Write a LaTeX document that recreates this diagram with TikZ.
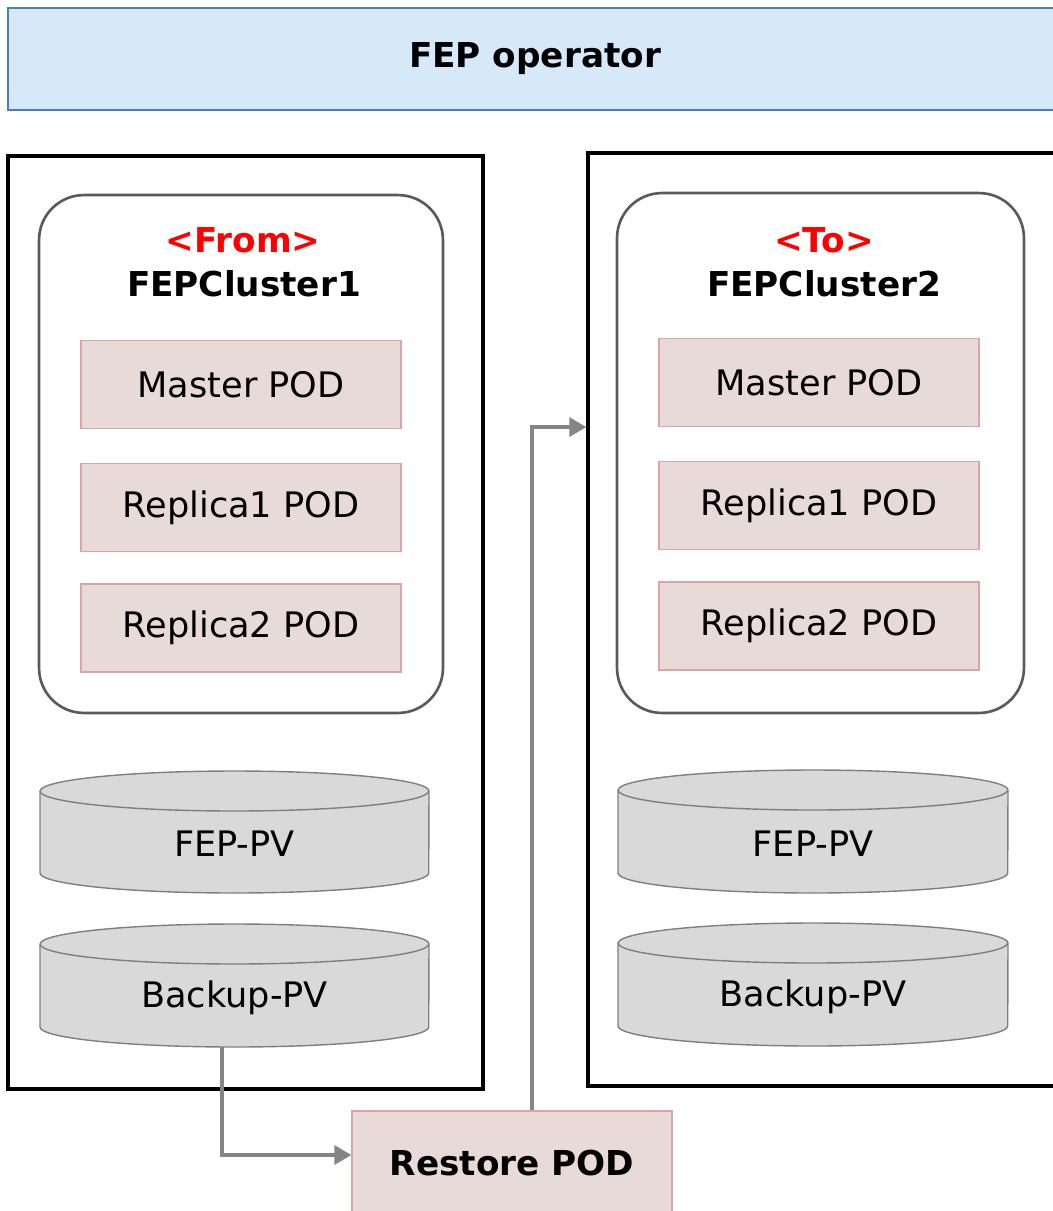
\documentclass[tikz,border=0pt]{standalone}
\usepackage{fontspec}
\setmainfont{DejaVu Sans}
\usetikzlibrary{arrows.meta,positioning}

\definecolor{opfill}{HTML}{D6E9F8}
\definecolor{opedge}{HTML}{4A7EBB}
\definecolor{podfill}{HTML}{E9DADA}
\definecolor{podedge}{HTML}{D9A5A5}
\definecolor{pvfill}{HTML}{D9D9D9}
\definecolor{pvedge}{HTML}{7F7F7F}
\definecolor{clusteredge}{HTML}{5A5A5A}
\definecolor{flowgray}{HTML}{858585}

\tikzset{
  pod/.style={draw=podedge, fill=podfill, line width=0.8pt, inner sep=0pt,
    minimum width=6.4cm, minimum height=1.76cm, font=\fontsize{20}{24}\selectfont},
  frame/.style={draw=black, line width=2pt, inner sep=0pt},
  cluster/.style={draw=clusteredge, line width=1.5pt, rounded corners=0.9cm, inner sep=0pt},
  pv/.style={draw=pvedge, fill=pvfill, line width=0.8pt},
  flow/.style={draw=flowgray, line width=2pt, -{Triangle[length=0.34cm,width=0.38cm]}},
  bold label/.style={font=\fontsize{19.5}{23}\selectfont\bfseries}
}

\begin{document}
\begin{tikzpicture}[x=0.02cm,y=-0.02cm]
	%Page is 1053 x 1211, one unit is one pixel of the reference, y runs down
	\useasboundingbox (0,0) rectangle (1053,1211);
	\clip (0,0) rectangle (1053,1211);

	%Operator bar on top
	\node[draw=opedge, fill=opfill, line width=1.1pt, minimum width=21.08cm, minimum height=2.04cm,
	  bold label] (operator) at (535,59) {FEP operator};

	%Outer frames of the two clusters
	\node[frame, minimum width=9.5cm, minimum height=18.66cm] (from-frame) at (245.5,622.5) {};
	\node[frame, minimum width=9.64cm, minimum height=18.66cm] (to-frame) at (829,619.5) {};

	%Rounded cluster boxes
	\node[cluster, minimum width=8.08cm, minimum height=10.36cm] (from-cluster) at (241,454) {};
	\node[cluster, minimum width=8.14cm, minimum height=10.4cm] (to-cluster) at (820.5,453) {};

	\node[bold label, text=red] (from-tag) at (243,240) {<From>};
	\node[bold label] (from-name) at (244,284) {FEPCluster1};
	\node[bold label, text=red] (to-tag) at (824,240) {<To>};
	\node[bold label] (to-name) at (824,284) {FEPCluster2};

	%Pods of each cluster
	\foreach \side/\cx/\dy in {from/241/0, to/819/-2}{
	  \node[pod] (\side-master) at (\cx,384.5+\dy) {Master POD};
	  \node[pod] (\side-replica1) at (\cx,507.5+\dy) {Replica1 POD};
	  \node[pod] (\side-replica2) at (\cx,628+\dy) {Replica2 POD};
	}

	%Persistent volumes: left, right, top, bottom
	\foreach \name/\xl/\xr/\yt/\yb/\txt in {from-fep/40/429/771/893/FEP-PV,
	    from-backup/40/429/924/1047/Backup-PV,
	    to-fep/618/1008/770/893/FEP-PV,
	    to-backup/618/1008/923/1046/Backup-PV}{
	  \pgfmathsetmacro{\rx}{(\xr-\xl)*0.01}
	  \draw[pv] (\xl,\yt+20) -- (\xl,\yb-20)
	    arc[start angle=180, end angle=360, x radius=\rx cm, y radius=0.4cm]
	    -- (\xr,\yt+20)
	    arc[start angle=0, end angle=180, x radius=\rx cm, y radius=0.4cm] -- cycle;
	  \draw[pvedge, line width=0.8pt] (\xl,\yt+20)
	    arc[start angle=180, end angle=360, x radius=\rx cm, y radius=0.4cm];
	  \node[font=\fontsize{20}{24}\selectfont] (\name) at ({(\xl+\xr)/2},{(\yt+\yb)/2+12}) {\txt};
	}
	\coordinate (from-backup-out) at (222,1047);

	%Restore pod below the frames
	\node[pod, minimum height=2.08cm, bold label] (restore) at (512,1163) {Restore POD};

	%Backup-PV to Restore POD, Restore POD to FEPCluster2
	\draw[flow] (from-backup-out) |- ([yshift=0.16cm]restore.west);
	\draw[flow] ([xshift=0.4cm]restore.north) |- ([yshift=3.85cm]to-frame.west);

\end{tikzpicture}
\end{document}
